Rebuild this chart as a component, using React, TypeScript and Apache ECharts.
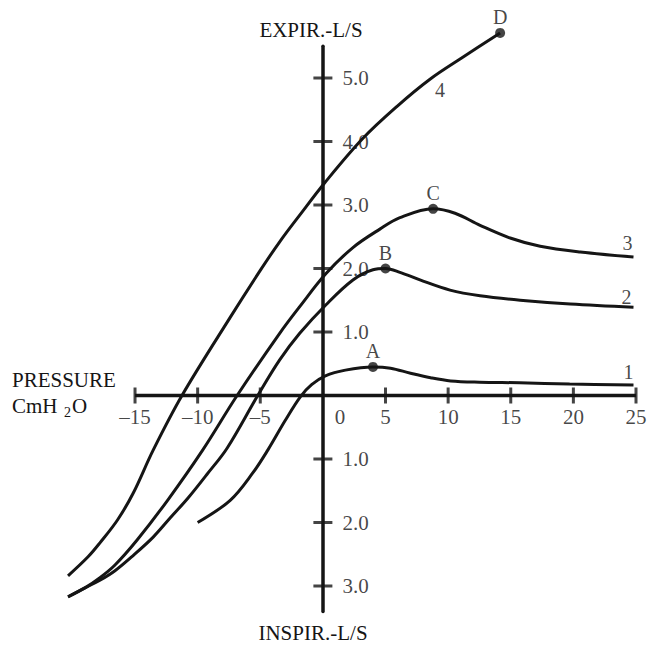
import React, { useEffect, useRef } from "react";
import * as echarts from "echarts";

// Pressure (cmH2O) on x, flow (L/s) on y; negative flow is inspiration.
const xTickValues = [-15, -10, -5, 0, 5, 10, 15, 20, 25];
const yTickValues = [-3, -2, -1, 1, 2, 3, 4, 5];
// drawn extent of the pressure axis line
const pressureAxisSpan: [number, number] = [-15, 25];

const curve1: [number, number][] = [
  [-10.0, -2.0], [-7.4, -1.65], [-5.6, -1.22], [-4.4, -0.86], [-3.0, -0.39],
  [-1.8, -0.02], [-0.9, 0.17], [0.2, 0.31], [1.8, 0.4], [4.0, 0.45],
  [5.4, 0.43], [7.0, 0.35], [8.6, 0.28], [10.2, 0.23], [12.5, 0.21],
  [15.7, 0.2], [19.7, 0.18], [24.8, 0.165],
];

const curve2: [number, number][] = [
  [-20.35, -3.17], [-19.0, -3.03], [-17.8, -2.91], [-16.6, -2.76], [-15.15, -2.52],
  [-13.55, -2.23], [-12.2, -1.93], [-10.75, -1.61], [-9.25, -1.24], [-7.65, -0.83],
  [-5.2, 0.0], [-3.45, 0.56], [-1.85, 0.98], [0.25, 1.43], [2.4, 1.82],
  [4.0, 1.98], [5.0, 2.0], [6.15, 1.94], [7.75, 1.82], [10.15, 1.66],
  [12.55, 1.57], [15.75, 1.5], [19.75, 1.44], [24.8, 1.39],
];

const curve3: [number, number][] = [
  [-20.35, -3.17], [-19.0, -3.03], [-17.8, -2.87], [-16.6, -2.67], [-14.85, -2.28],
  [-12.4, -1.65], [-9.6, -0.86], [-6.85, 0.0], [-3.45, 0.98], [-1.85, 1.4],
  [0.25, 1.92], [2.4, 2.33], [4.55, 2.62], [6.15, 2.8], [8.8, 2.94],
  [10.55, 2.87], [12.55, 2.68], [14.95, 2.48], [17.35, 2.35], [20.55, 2.26],
  [24.8, 2.18],
];

const curve4: [number, number][] = [
  [-20.35, -2.84], [-18.75, -2.54], [-17.8, -2.32], [-16.4, -1.96], [-15.15, -1.54],
  [-13.55, -0.86], [-11.25, 0.0], [-7.4, 1.23], [-5.0, 1.97], [-3.45, 2.42],
  [-1.85, 2.84], [0.15, 3.35], [3.2, 4.05], [5.9, 4.55], [8.55, 4.98],
  [11.2, 5.33], [14.15, 5.71],
];

// Peak flow points marked on each curve
const peakNames = ["A", "B", "C", "D"];
const peakPoints: [number, number][] = [
  [4.0, 0.45], [5.0, 2.0], [8.8, 2.94], [14.15, 5.71],
];

const curveNames = ["1", "2", "3", "4"];

const INK = "#151515";
const FONT = "'Liberation Serif', 'Times New Roman', serif";

const fmtPressure = (v: number) => (v < 0 ? "\u2013" + Math.abs(v) : String(v));
const fmtFlow = (v: number) => Math.abs(v).toFixed(1);

export default function App() {
  const ref = useRef<HTMLDivElement>(null);

  useEffect(() => {
    if (!ref.current) return;
    const chart = echarts.init(ref.current, undefined, { renderer: "svg" });

    const textStyle = { color: INK, fontFamily: FONT, fontSize: 21 };

    const curveSeries = [curve1, curve2, curve3, curve4].map((c, i) => ({
      type: "line",
      name: "curve" + curveNames[i],
      data: c,
      showSymbol: false,
      smooth: 0.35,
      clip: false,
      silent: true,
      lineStyle: { color: INK, width: 3 },
      z: 2,
    }));

    // curve numbers, anchored on points of each curve
    const tagAnchors = [
      { value: curve1[curve1.length - 1], name: "1", offset: [-5, -13] },
      { value: curve2[curve2.length - 1], name: "2", offset: [-7, -10] },
      { value: curve3[curve3.length - 1], name: "3", offset: [-6, -14] },
      { value: curve4[14], name: "4", offset: [10, 11] },
    ];

    const titleText = (text: string, x: number, y: number, align: string, size = 21) => ({
      type: "text",
      x,
      y,
      silent: true,
      style: { text, align, verticalAlign: "middle", fill: INK, font: `${size}px ${FONT}` },
    });

    const option = {
      animation: false,
      backgroundColor: "#ffffff",
      grid: {
        left: 59.875,
        right: 11,
        top: 46.25,
        bottom: 33.6,
        containLabel: false,
        outerBoundsMode: "none",
      },
      xAxis: {
        type: "value",
        min: -21,
        max: 25,
        axisLine: { show: false },
        axisTick: { show: false },
        axisLabel: { show: false },
        splitLine: { show: false },
      },
      yAxis: {
        type: "value",
        min: -3.4,
        max: 5.5,
        axisLine: { show: true, onZero: true, lineStyle: { color: INK, width: 3.5 } },
        axisTick: { show: false },
        axisLabel: { show: false },
        splitLine: { show: false },
      },
      graphic: [
        titleText("EXPIR.-L/S", 311, 30, "center"),
        titleText("INSPIR.-L/S", 313, 633, "center"),
        titleText("PRESSURE", 12, 380, "left"),
        titleText("CmH", 12, 405.5, "left"),
        titleText("2", 64, 412, "left", 14),
        titleText("O", 72, 405.5, "left"),
      ],
      series: [
        // pressure axis line along zero flow
        {
          type: "line",
          name: "pressureAxis",
          data: pressureAxisSpan.map((v) => [v, 0]),
          showSymbol: false,
          silent: true,
          clip: false,
          lineStyle: { color: INK, width: 3.5 },
          z: 1,
        },
        ...curveSeries,
        // pressure ticks crossing the horizontal axis, with their labels
        {
          type: "scatter",
          name: "pressureTicks",
          symbol: "rect",
          symbolSize: [3, 16],
          clip: false,
          silent: true,
          itemStyle: { color: INK },
          data: xTickValues.map((v) =>
            v === 0
              ? { value: [0, 0], itemStyle: { color: "rgba(0,0,0,0)" }, label: { offset: [17, 0] } }
              : { value: [v, 0] }
          ),
          label: {
            show: true,
            position: "bottom",
            distance: 3,
            formatter: (p: any) => fmtPressure(p.value[0]),
            ...textStyle,
          },
          z: 3,
        },
        // flow ticks crossing the vertical axis, with their labels
        {
          type: "scatter",
          name: "flowTicks",
          symbol: "rect",
          symbolSize: [19, 3],
          clip: false,
          silent: true,
          itemStyle: { color: INK },
          data: yTickValues.map((v) => ({ value: [0, v] })),
          label: {
            show: true,
            position: "right",
            distance: 10,
            formatter: (p: any) => fmtFlow(p.value[1]),
            ...textStyle,
          },
          z: 3,
        },
        // peak markers A-D
        {
          type: "scatter",
          name: "peaks",
          symbol: "circle",
          symbolSize: 10,
          clip: false,
          silent: true,
          itemStyle: { color: INK },
          data: peakPoints.map((p, i) => ({ value: p, name: peakNames[i] })),
          label: {
            show: true,
            position: "top",
            distance: 1,
            formatter: "{b}",
            ...textStyle,
            fontSize: 20,
          },
          z: 4,
        },
        // curve numbers
        {
          type: "scatter",
          name: "curveTags",
          symbolSize: 0,
          clip: false,
          silent: true,
          itemStyle: { color: "rgba(0,0,0,0)" },
          data: tagAnchors.map((t) => ({
            value: t.value,
            name: t.name,
            label: { offset: t.offset },
          })),
          label: {
            show: true,
            position: "inside",
            formatter: "{b}",
            ...textStyle,
            fontSize: 20,
          },
          z: 4,
        },
      ],
    };

    chart.setOption(option as any);
    return () => chart.dispose();
  }, []);

  return (
    <div
      ref={ref}
      style={{ position: "absolute", left: 0, top: 0, width: 647, height: 645, background: "#fff" }}
    />
  );
}
